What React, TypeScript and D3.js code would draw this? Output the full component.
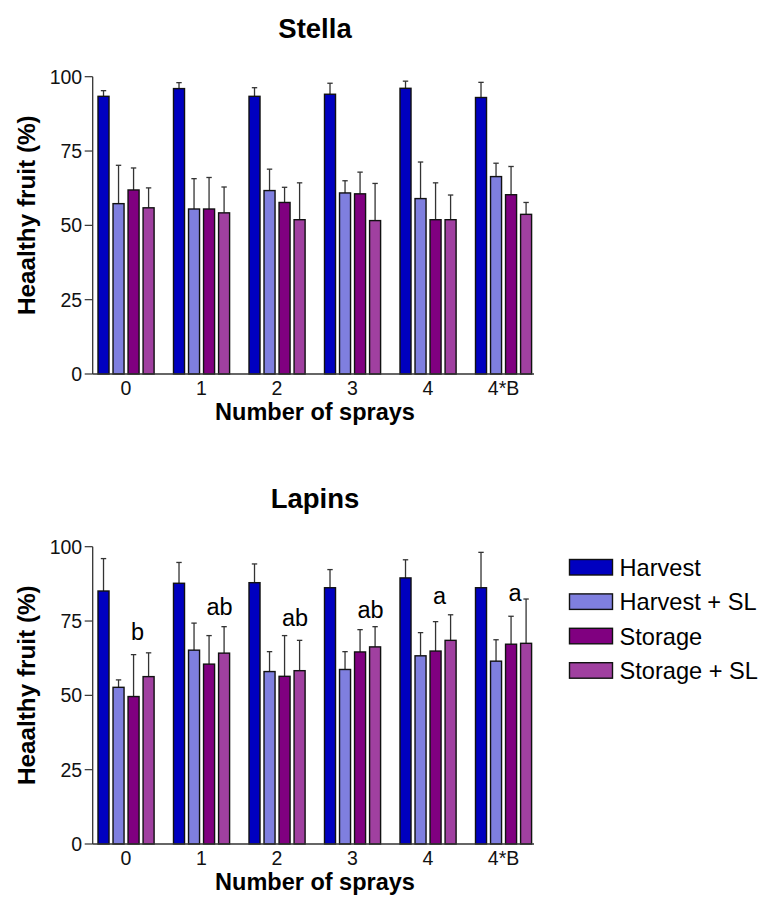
import React from "react";
import * as d3 from "d3";

const categories = ["0", "1", "2", "3", "4", "4*B"];
const seriesNames = ["Harvest", "Harvest + SL", "Storage", "Storage + SL"];
const seriesColors = ["#0000C0", "#7F7FDF", "#800080", "#A040A0"];
const yTicks = [0, 25, 50, 75, 100];

// Stella
const stellaHarvest = [93.4, 96.0, 93.4, 94.1, 96.1, 93.0];
const stellaHarvestErr = [1.9, 2.0, 2.9, 3.7, 2.4, 5.1];
const stellaHarvestSL = [57.3, 55.5, 61.7, 60.9, 59.0, 66.4];
const stellaHarvestSLErr = [12.9, 10.2, 7.2, 4.1, 12.3, 4.5];
const stellaStorage = [61.9, 55.5, 57.7, 60.6, 51.9, 60.3];
const stellaStorageErr = [7.4, 10.6, 5.1, 7.3, 12.4, 9.5];
const stellaStorageSL = [55.9, 54.2, 51.9, 51.6, 51.9, 53.7];
const stellaStorageSLErr = [6.7, 8.7, 12.4, 12.5, 8.3, 4.0];

// Lapins
const lapinsHarvest = [85.1, 87.7, 87.9, 86.2, 89.5, 86.2];
const lapinsHarvestErr = [10.9, 7.0, 6.3, 6.1, 6.1, 11.9];
const lapinsHarvestSL = [52.7, 65.2, 58.0, 58.7, 63.3, 61.5];
const lapinsHarvestSLErr = [2.5, 9.1, 6.7, 6.0, 7.8, 7.2];
const lapinsStorage = [49.6, 60.5, 56.4, 64.6, 64.9, 67.2];
const lapinsStorageErr = [14.1, 9.6, 13.7, 7.5, 9.9, 9.4];
const lapinsStorageSL = [56.3, 64.2, 58.3, 66.3, 68.5, 67.5];
const lapinsStorageSLErr = [8.0, 8.9, 10.2, 6.8, 8.6, 14.9];

const lapinsLetters = ["b", "ab", "ab", "ab", "a", "a"];
const lapinsLetterY = [68.6, 77.0, 73.4, 75.9, 80.8, 81.7];

const FONT = "'Liberation Sans', Arial, Helvetica, sans-serif";

type ChartProps = {
  title: string;
  top: number;
  values: number[][];
  errors: number[][];
  letters?: string[];
  letterY?: number[];
};

function Chart({ title, top, values, errors, letters, letterY }: ChartProps) {
  const y = d3.scaleLinear().domain([0, 100]).range([top + 297.3, top]);
  const x0 = d3
    .scaleBand<string>()
    .domain(categories)
    .range([88.3, 541.3])
    .paddingInner(0.257)
    .paddingOuter(0.1285);
  const x1 = d3
    .scaleBand<string>()
    .domain(seriesNames)
    .range([0, x0.bandwidth()])
    .paddingInner(0.2667)
    .paddingOuter(0);
  const axisX = 92.7;
  const axisEnd = 534;
  const y0 = y(0);
  const bw = x1.bandwidth();
  const cap = 2.7;

  return (
    <g>
      <text
        x={315}
        y={top - 39}
        textAnchor="middle"
        fontFamily={FONT}
        fontWeight="bold"
        fontSize={27.5}
        fill="#000"
      >
        {title}
      </text>
      <text
        transform={`translate(34.5,${top + 138.5}) rotate(-90)`}
        textAnchor="middle"
        fontFamily={FONT}
        fontWeight="bold"
        fontSize={24.3}
        fill="#000"
      >
        Heaalthy fruit (%)
      </text>
      {yTicks.map((t) => (
        <g key={t}>
          <line x1={axisX - 8} x2={axisX} y1={y(t)} y2={y(t)} stroke="#333" strokeWidth={1.2} />
          <text
            x={axisX - 10.5}
            y={y(t)}
            dy="0.36em"
            textAnchor="end"
            fontFamily={FONT}
            fontSize={19.5}
            fill="#111"
          >
            {t}
          </text>
        </g>
      ))}
      {categories.map((c, i) =>
        seriesNames.map((s, j) => {
          const v = values[j][i];
          const e = errors[j][i];
          const bx = (x0(c) as number) + (x1(s) as number);
          const cx = bx + bw / 2;
          return (
            <g key={c + s}>
              <line x1={cx} x2={cx} y1={y(v)} y2={y(v + e)} stroke="#333" strokeWidth={1.3} />
              <line x1={cx - cap} x2={cx + cap} y1={y(v + e)} y2={y(v + e)} stroke="#333" strokeWidth={1.3} />
              <rect
                x={bx}
                y={y(v)}
                width={bw}
                height={y0 - y(v)}
                fill={seriesColors[j]}
                stroke="#111"
                strokeWidth={1.4}
              />
            </g>
          );
        })
      )}
      <line x1={axisX} x2={axisX} y1={y(100)} y2={y0} stroke="#333" strokeWidth={1.3} />
      <line x1={axisX} x2={axisEnd} y1={y0} y2={y0} stroke="#333" strokeWidth={1.3} />
      {categories.map((c) => (
        <text
          key={c}
          x={(x0(c) as number) + x0.bandwidth() / 2}
          y={y0 + 20.5}
          textAnchor="middle"
          fontFamily={FONT}
          fontSize={19.5}
          fill="#111"
        >
          {c}
        </text>
      ))}
      <text
        x={315}
        y={y0 + 45.5}
        textAnchor="middle"
        fontFamily={FONT}
        fontWeight="bold"
        fontSize={23.5}
        fill="#000"
      >
        Number of sprays
      </text>
      {letters &&
        letterY &&
        categories.map((c, i) => (
          <text
            key={"l" + c}
            x={(x0(c) as number) + x0.bandwidth() / 2 + 5}
            y={y(letterY[i])}
            textAnchor="start"
            fontFamily={FONT}
            fontSize={23.5}
            fill="#000"
          >
            {letters[i]}
          </text>
        ))}
    </g>
  );
}

function Legend({ left, top }: { left: number; top: number }) {
  const step = 34.4;
  return (
    <g>
      {seriesNames.map((s, j) => (
        <g key={s}>
          <rect
            x={left}
            y={top + j * step}
            width={43}
            height={15.5}
            fill={seriesColors[j]}
            stroke="#111"
            strokeWidth={1.4}
          />
          <text
            x={left + 50}
            y={top + j * step + 16.5}
            fontFamily={FONT}
            fontSize={23.6}
            fill="#000"
          >
            {s}
          </text>
        </g>
      ))}
    </g>
  );
}

export default function App() {
  return (
    <svg
      width={765}
      height={910}
      style={{ position: "absolute", left: 0, top: 0, background: "#fff" }}
    >
      <rect width={765} height={910} fill="#fff" />
      <Chart
        title="Stella"
        top={76.7}
        values={[stellaHarvest, stellaHarvestSL, stellaStorage, stellaStorageSL]}
        errors={[stellaHarvestErr, stellaHarvestSLErr, stellaStorageErr, stellaStorageSLErr]}
      />
      <Chart
        title="Lapins"
        top={546.7}
        values={[lapinsHarvest, lapinsHarvestSL, lapinsStorage, lapinsStorageSL]}
        errors={[lapinsHarvestErr, lapinsHarvestSLErr, lapinsStorageErr, lapinsStorageSLErr]}
        letters={lapinsLetters}
        letterY={lapinsLetterY}
      />
      <Legend left={569.5} top={559.5} />
    </svg>
  );
}
